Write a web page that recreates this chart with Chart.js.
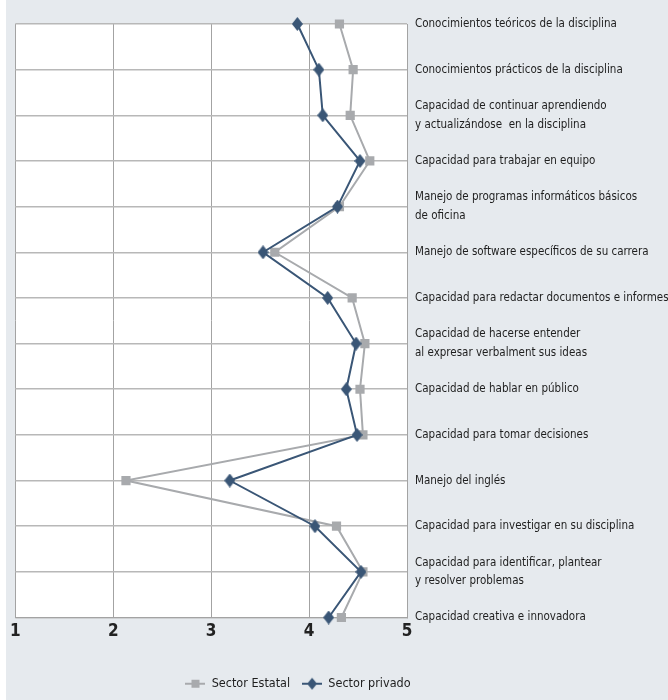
<!DOCTYPE html>
<html>
<head>
<meta charset="utf-8">
<script src="https://cdn.jsdelivr.net/npm/chart.js@4.4.1/dist/chart.umd.min.js"></script>
<style>
html, body { margin: 0; padding: 0; background: #fff; }
#wrap { position: absolute; left: 6px; top: 0; width: 662px; height: 700px; background: #e6eaee; }
</style>
</head>
<body>
<div id="wrap"><canvas id="chart" width="662" height="700"></canvas></div>
<script>
var categories = [
	"Conocimientos teóricos de la disciplina",
	"Conocimientos prácticos de la disciplina",
	["Capacidad de continuar aprendiendo", "y actualizándose  en la disciplina"],
	"Capacidad para trabajar en equipo",
	["Manejo de programas informáticos básicos", "de oficina"],
	"Manejo de software específicos de su carrera",
	"Capacidad para redactar documentos e informes",
	["Capacidad de hacerse entender", "al expresar verbalment sus ideas"],
	"Capacidad de hablar en público",
	"Capacidad para tomar decisiones",
	"Manejo del inglés",
	"Capacidad para investigar en su disciplina",
	["Capacidad para identificar, plantear", "y resolver problemas"],
	"Capacidad creativa e innovadora"
];
var sectorEstatal = [4.31, 4.45, 4.42, 4.62, 4.31, 3.65, 4.44, 4.57, 4.52, 4.55, 2.13, 4.28, 4.55, 4.33];
var sectorPrivado = [3.88, 4.10, 4.14, 4.52, 4.29, 3.53, 4.19, 4.48, 4.38, 4.49, 3.19, 4.06, 4.53, 4.20];
var xTicks = [1, 2, 3, 4, 5];

var grisEstatal = "#a8aaad";
var azulPrivado = "#3a5676";
var fuente = "'Liberation Sans Narrow', 'DejaVu Sans Condensed', sans-serif";

// diamond marker (taller than wide)
function diamante(w, h, color) {
	var c = document.createElement("canvas");
	c.width = w; c.height = h;
	var g = c.getContext("2d");
	g.fillStyle = color;
	g.beginPath();
	g.moveTo(w / 2, 0); g.lineTo(w, h / 2); g.lineTo(w / 2, h); g.lineTo(0, h / 2);
	g.closePath(); g.fill();
	return c;
}

// legend icons: line with marker through it
function iconoLeyenda(color, cuadrado) {
	var c = document.createElement("canvas");
	c.width = 20; c.height = 14;
	var g = c.getContext("2d");
	g.strokeStyle = color; g.lineWidth = 2;
	g.beginPath(); g.moveTo(0, 7); g.lineTo(20, 7); g.stroke();
	g.fillStyle = color;
	if (cuadrado) {
		g.fillRect(6, 3, 8, 8);
	} else {
		g.beginPath();
		g.moveTo(10, 1); g.lineTo(15, 7); g.lineTo(10, 13); g.lineTo(5, 7);
		g.closePath(); g.fill();
	}
	return c;
}

// white plot area on the grey page
var fondoBlanco = {
	id: "fondoBlanco",
	beforeDraw: function(chart) {
		var a = chart.chartArea, c = chart.ctx;
		c.save();
		c.fillStyle = "#fff";
		c.fillRect(a.left, a.top, a.right - a.left, a.bottom - a.top);
		c.restore();
	}
};

// legend sits a bit left of the page centre
var moverLeyenda = {
	id: "moverLeyenda",
	afterLayout: function(chart) {
		chart.legend.left = 0;
		chart.legend.right = 584;
	}
};

var ctx = document.getElementById("chart").getContext("2d");
new Chart(ctx, {
	type: "line",
	data: {
		labels: categories,
		datasets: [{
			label: "Sector Estatal",
			data: sectorEstatal,
			borderColor: grisEstatal,
			backgroundColor: grisEstatal,
			borderWidth: 2,
			pointStyle: "rect",
			pointRadius: 6.5,
			pointBorderWidth: 0,
			order: 1
		}, {
			label: "Sector privado",
			data: sectorPrivado,
			borderColor: azulPrivado,
			backgroundColor: azulPrivado,
			borderWidth: 2,
			pointStyle: diamante(11, 14, azulPrivado),
			pointRadius: 7,
			order: 0
		}]
	},
	plugins: [fondoBlanco, moverLeyenda],
	options: {
		indexAxis: "y",
		responsive: false,
		animation: false,
		events: [],
		layout: { padding: { left: 7, top: 24, right: 0, bottom: 0 } },
		scales: {
			x: {
				type: "linear",
				min: 1,
				max: 5,
				afterBuildTicks: function(scale) {
					scale.ticks = xTicks.map(function(v) { return { value: v }; });
				},
				afterFit: function(scale) { scale.height = 48; },
				grid: { color: "#a3a3a3", lineWidth: 1, drawTicks: false },
				border: { color: "#a3a3a3" },
				ticks: {
					padding: 4,
					color: "#222",
					font: { family: fuente, size: 17, weight: "bold" }
				}
			},
			y: {
				type: "category",
				position: "right",
				offset: false,
				afterFit: function(scale) { scale.width = 261; },
				grid: { color: "#b8b8b8", lineWidth: 1.5, drawTicks: false },
				border: { color: "#a3a3a3" },
				ticks: {
					autoSkip: false,
					crossAlign: "near",
					padding: 8,
					color: "#1e1e1e",
					font: { family: fuente, size: 11.5, lineHeight: 1.62 }
				}
			}
		},
		plugins: {
			tooltip: { enabled: false },
			legend: {
				position: "bottom",
				labels: {
					usePointStyle: true,
					pointStyleWidth: 20,
					padding: 12,
					color: "#1e1e1e",
					font: { family: fuente, size: 12.5 },
					generateLabels: function(chart) {
						return chart.data.datasets.map(function(ds, i) {
							return {
								text: ds.label,
								pointStyle: iconoLeyenda(ds.borderColor, i === 0),
								fillStyle: ds.borderColor,
								strokeStyle: ds.borderColor,
								lineWidth: 0,
								fontColor: "#1e1e1e",
								datasetIndex: i
							};
						});
					}
				}
			}
		}
	}
});
</script>
</body>
</html>
